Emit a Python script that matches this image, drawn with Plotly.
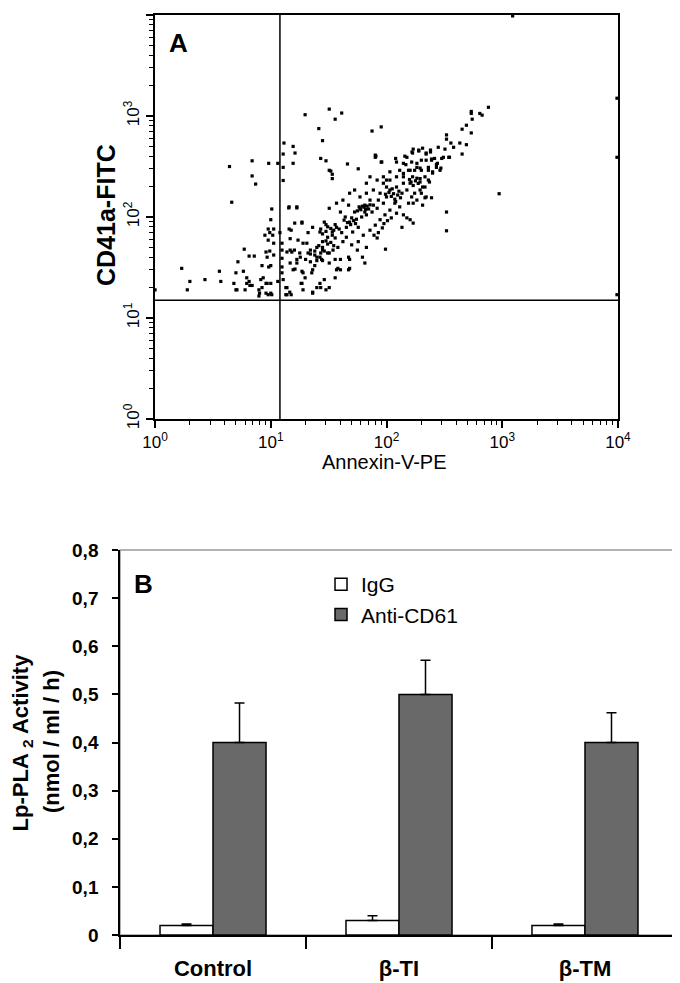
import plotly.graph_objects as go

# ---- panel A: flow cytometry events (Annexin-V-PE vs CD41a-FITC) ----
annexin_pe = [
    # upper-left / upper outliers
    4.4, 4.6, 6.9, 6.9, 7.4, 9.6, 11.5, 10.2,
    13, 12.8, 12.8, 12.8, 15.6, 16.2, 15.6, 19.8, 26, 28, 27, 30, 32, 36, 41, 33, 34, 32, 34,
    46, 57, 75, 90, 80, 90, 14.3, 16.8, 81, 144, 166, 220, 245, 270, 310, 295, 330, 330, 98, 940,
    # upper-right tail
    760, 540, 540, 640, 670, 550, 490, 450, 540, 490, 430, 380, 450, 330, 330, 360, 320, 280,
    300, 350, 240, 205, 220, 170, 190, 150, 120, 240, 190, 168, 345, 260, 245, 220, 200, 183,
    165, 147, 155, 175, 195, 230, 270, 290, 250, 215, 230, 195, 215, 195, 175, 160, 140, 130,
    122, 140, 107, 94, 91, 80, 100, 83, 215, 245, 205,
    # events on the frame edge
    9800, 9800, 9800, 1230,
    # lower-left quadrant area above the gate
    1.7, 2.0, 1.9, 2.7, 3.6, 3.7, 5.2, 5.9, 6.5, 7.2, 5.8, 6.2, 6.5, 5.0, 4.8, 5.0, 6.0, 6.6,
    8.2, 7.9, 8.0, 7.9, 9.1, 10, 9.1, 10, 8.6, 8.4, 9.6, 9.3, 9.1, 9.8, 9.5, 8.9, 9.8, 10.4,
    9.5, 10, 10.6, 10.6, 10.6, 10, 1.0, 5.1, 6.2, 6.9, 8.4, 9.3, 9.5, 10.2, 11.5,
    # just right of the vertical gate
    14.4, 16.8, 16.1, 18.6, 15, 14.7, 12, 12.5, 12.5, 12.5, 12.5, 12.5, 12.8, 13.8, 14.6, 13.8,
    13.8, 15.2, 16.8, 16.2, 18.6, 18.6, 23, 27, 30, 32, 20.5, 22, 25, 23, 27.5, 28, 32, 36, 40,
    37, 40, 47, 48, 62, 65, 13.5, 13.5, 15, 18.3, 23, 26.6,
    # main diagonal cluster
    14.4, 18.6, 17.2, 19, 14.7, 16, 17.8, 14.7, 16.8, 15.6, 19, 19.8, 22.6, 24, 26.6, 28, 32,
    38, 48, 22, 25, 28, 31, 34, 37, 26.6, 29, 23, 21, 34.5, 38, 42, 45, 51, 57, 48, 44, 40, 32,
    37, 42, 53, 59, 65, 72, 61, 67, 75, 83, 63, 72, 80, 88, 97, 107, 94, 100, 88, 77, 67, 59,
    107, 122, 136, 150, 140, 163, 183, 165, 183, 155, 130, 122, 140, 160, 170, 200, 220, 205,
    235, 250, 230, 275, 200, 183, 160, 140, 122, 107, 94, 72, 67, 53, 48, 47, 136, 150, 170,
    118, 100, 85, 77, 50, 45, 41, 36, 28, 31, 25, 47, 56, 57, 83, 50, 67, 36, 29, 25, 19,
    # darkest patches of the cluster
    60, 64, 66, 62, 58, 68, 70, 56, 65, 72,
    30, 33, 35, 31, 28, 34, 36, 39, 27, 30,
    26, 29, 31, 24, 27, 33, 35, 30,
    110, 115, 125, 105, 118, 128, 112, 132, 98, 120,
    46, 52, 49, 55, 43, 54,
    170, 178, 188, 158, 195, 168,
    85, 92, 78, 95, 102, 110,
    20, 22, 18, 21, 24,
]
cd41a_fitc = [
    316, 140, 360, 255, 212, 340, 340, 120,
    540, 420, 310, 230, 500, 430, 340, 1030, 750, 570, 380, 360, 1170, 930, 1070, 285, 240, 290, 265,
    335, 300, 710, 780, 390, 350, 123, 123, 400, 400, 440, 430, 375, 330, 390, 305, 112, 73, 48, 170,
    1220, 1110, 1060, 1060, 1020, 930, 810, 740, 680, 520, 540, 490, 420, 650, 590, 540, 470, 490,
    380, 390, 460, 480, 420, 470, 450, 390, 380, 440, 460, 430, 390, 380, 365, 365, 365, 340,
    350, 330, 290, 290, 305, 310, 310, 290, 280, 250, 232, 222, 198, 185, 172, 216, 250, 290,
    350, 340, 280, 250, 350, 410, 232, 232, 155, 155, 131,
    1500, 390, 17, 9800,
    31, 23, 19, 24, 29, 23, 36, 48, 41, 41, 29, 25, 23, 28, 22, 19, 19, 21,
    24, 19, 17.6, 16.5, 22, 22, 17.6, 17.6, 25, 33, 32, 40, 45, 46, 59, 66, 70, 66,
    76, 94, 76, 55, 42, 33, 19, 19, 22, 21, 20, 22, 17, 17, 23,
    126, 126, 87, 87, 74, 61, 70, 55, 47, 39, 32, 28, 24, 20, 18, 17,
    45, 45, 38, 30.5, 29, 22, 18, 20, 19, 20, 55, 43, 37, 30, 38, 50, 44, 38, 38,
    30, 30, 30, 38, 40, 35, 20, 17, 17, 22, 17.6, 22,
    76, 89, 59, 55, 47, 47, 44, 35, 35, 30, 28, 25, 28, 33, 40, 37, 35,
    31, 31, 47, 50, 57, 63, 71, 79, 71, 89, 79, 70, 47, 50, 57, 63, 71, 79, 89, 100, 112, 122,
    137, 147, 112, 122, 131, 147, 100, 105, 112, 122, 66, 74, 83, 94, 105, 117, 137, 158, 172, 185, 172, 158,
    185, 198, 172, 185, 216, 222, 242, 158, 147, 137, 126, 109, 105, 94, 137, 172, 158, 198,
    222, 272, 290, 340, 290, 310, 290, 270, 250, 232, 216, 250, 216, 185, 172, 131, 79, 98, 87,
    137, 198, 147, 131, 98, 79, 70, 62, 47, 44, 40, 40, 47, 57, 62, 53, 50, 25, 24, 20, 19,
    118, 125, 119, 128, 126, 128, 120, 115, 112, 132,
    72, 77, 74, 80, 68, 66, 84, 76, 76, 84,
    52, 46, 54, 46, 44, 56, 52, 58,
    160, 170, 165, 175, 150, 180, 190, 155, 168, 142,
    88, 92, 84, 95, 93, 86,
    205, 228, 215, 235, 240, 250,
    70, 78, 66, 86, 92, 98,
    38, 36, 40, 44, 42,
]
annexin_gate = 12
cd41a_gate = 15

# ---- panel B: Lp-PLA2 activity ----
treatments = ["Control", "β-TI", "β-TM"]
igg_activity = [0.02, 0.03, 0.02]
igg_error = [0.003, 0.01, 0.003]
anti_cd61_activity = [0.40, 0.50, 0.40]
anti_cd61_error = [0.082, 0.071, 0.062]

FONT = "Liberation Sans, Arial, sans-serif"
decades = [1, 10, 100, 1000, 10000]
decade_text = [f"10<sup>{i}</sup>" for i in range(5)]
minor_vals = [k * d for d in decades[:-1] for k in range(2, 10)]

fig = go.Figure()

fig.add_trace(go.Scatter(
    x=annexin_pe, y=cd41a_fitc, mode="markers", showlegend=False,
    marker=dict(symbol="square", size=3.2, color="black", line=dict(width=0)),
    xaxis="x", yaxis="y",
))
fig.add_trace(go.Scatter(
    x=[annexin_gate, annexin_gate], y=[1, 10000], mode="lines", showlegend=False,
    line=dict(color="black", width=1.5), xaxis="x", yaxis="y",
))
fig.add_trace(go.Scatter(
    x=[1, 10000], y=[cd41a_gate, cd41a_gate], mode="lines", showlegend=False,
    line=dict(color="black", width=1.5), xaxis="x", yaxis="y",
))

fig.add_trace(go.Bar(
    x=treatments, y=igg_activity, name="IgG", xaxis="x2", yaxis="y2",
    marker=dict(color="white", line=dict(color="black", width=1.5)),
    error_y=dict(type="data", array=igg_error, arrayminus=[0, 0, 0], symmetric=False,
                 color="black", thickness=1.5, width=5),
))
fig.add_trace(go.Bar(
    x=treatments, y=anti_cd61_activity, name="Anti-CD61", xaxis="x2", yaxis="y2",
    marker=dict(color="#696969", line=dict(color="black", width=1.5)),
    error_y=dict(type="data", array=anti_cd61_error, arrayminus=[0, 0, 0], symmetric=False,
                 color="black", thickness=1.5, width=5),
))

log_axis = dict(
    type="log", range=[0, 4], showline=True, linecolor="black", linewidth=2, mirror=True,
    ticks="outside", ticklen=7, tickwidth=1.5, tickcolor="black",
    tickmode="array", tickvals=decades, ticktext=decade_text,
    tickfont=dict(family=FONT, size=17, color="black"),
    showgrid=False, zeroline=False, automargin=False,
    minor=dict(ticks="outside", ticklen=4, tickwidth=1.2, tickcolor="black",
               tickmode="array", tickvals=minor_vals, showgrid=False),
)

# the page body shifts the figure by 8px, so it is drawn 8px smaller
fig.update_layout(
    width=672, height=975,
    margin=dict(l=0, r=0, t=0, b=0),
    paper_bgcolor="white", plot_bgcolor="white",
    font=dict(family=FONT, color="black"),
    barmode="group", bargap=0.43, bargroupgap=0,
    xaxis=dict(log_axis, domain=[0.2188, 0.9077], anchor="y"),
    yaxis=dict(log_axis, domain=[0.5785, 0.9928], anchor="x", tickangle=-90),
    xaxis2=dict(
        domain=[0.1667, 0.997], anchor="y2", type="category", automargin=False,
        showline=True, linecolor="black", linewidth=1.5,
        ticks="outside", tickson="boundaries", ticklen=12, tickwidth=1.5, tickcolor="black",
        tickfont=dict(family=FONT, size=22, color="black", weight="bold"),
        ticklabelstandoff=13, showgrid=False,
    ),
    yaxis2=dict(
        domain=[0.0492, 0.4441], anchor="x2", range=[0, 0.8], automargin=False,
        showline=True, linecolor="black", linewidth=1.5,
        ticks="outside", ticklen=6, tickwidth=1.5, tickcolor="black",
        tickmode="array", tickvals=[i / 10 for i in range(9)],
        ticktext=["0", "0,1", "0,2", "0,3", "0,4", "0,5", "0,6", "0,7", "0,8"],
        tickfont=dict(family=FONT, size=19, color="black", weight="bold"),
        ticklabelstandoff=10, showgrid=False, zeroline=False,
    ),
    legend=dict(
        x=0.4658, y=0.4297, xanchor="left", yanchor="top",
        font=dict(family=FONT, size=21, color="black"),
        bgcolor="rgba(0,0,0,0)", tracegroupgap=0, itemwidth=30,
    ),
    shapes=[dict(
        type="rect", xref="x2 domain", yref="y2 domain", x0=0, x1=1, y0=0, y1=1,
        line=dict(color="#9a9a9a", width=1.5), layer="below",
    )],
    annotations=[
        dict(text="<b>A</b>", x=0.253, y=0.9641, font=dict(size=26)),
        dict(text="<b>B</b>", x=0.2009, y=0.4092, font=dict(size=26)),
        dict(text="<b>CD41a-FITC</b>", x=0.1458, y=0.7877, textangle=-90, font=dict(size=25)),
        dict(text="Annexin-V-PE", x=0.561, y=0.5345, font=dict(size=20)),
        dict(text="<b>Lp-PLA <sub>2</sub> Activity</b>", x=0.0215, y=0.2472,
             textangle=-90, font=dict(size=22)),
        dict(text="<b>(nmol / ml / h)</b>", x=0.0655, y=0.2472, textangle=-90, font=dict(size=22)),
    ],
)
fig.update_annotations(xref="paper", yref="paper", xanchor="center", yanchor="middle",
                       showarrow=False, font_family=FONT, font_color="black")

fig.write_html("out.html")
